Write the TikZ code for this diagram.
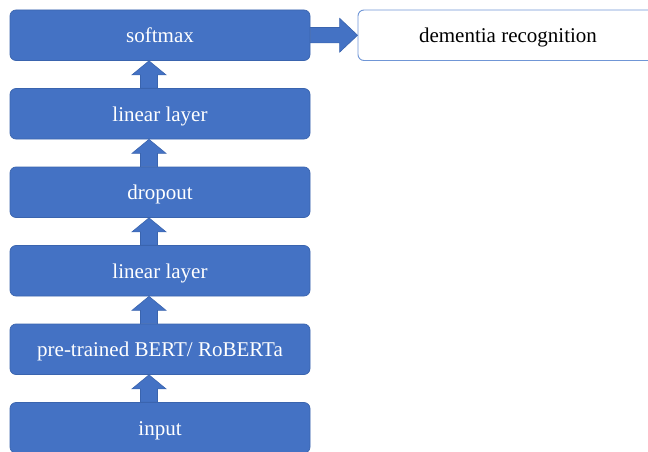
\documentclass[tikz,border=0pt]{standalone}
\usepackage{fontspec}
\setmainfont{Liberation Serif}
\usetikzlibrary{calc}
\definecolor{boxblue}{HTML}{4472C4}
\definecolor{boxedge}{HTML}{3A64AE}
\definecolor{lightedge}{HTML}{7096D6}
\tikzset{
  labeltext/.style={font=\fontsize{21}{25}\selectfont, inner sep=0pt,
    text height=14.5pt, text depth=0pt},
  layerbox/.style={rectangle, rounded corners=6pt, fill=boxblue, draw=boxedge,
    line width=0.7pt, minimum width=300pt, minimum height=50.5pt,
    text=white, labeltext},
  outbox/.style={rectangle, rounded corners=6pt, fill=white, draw=lightedge,
    line width=0.9pt, minimum width=300pt, minimum height=50.5pt,
    text=black, labeltext},
  blockarrow/.style={fill=boxblue, draw=boxedge, line width=0.6pt, line join=miter}
}
\begin{document}
\begin{tikzpicture}[x=1pt,y=1pt]
  \useasboundingbox (0,0) rectangle (648,451);
  \clip (0,0) rectangle (648,451);

  % stack of layers, bottom to top
  \node[layerbox] (input)   at (160,23.25)  {input};
  \node[layerbox] (bert)    at (160,101.75) {pre-trained BERT/ RoBERTa};
  \node[layerbox] (lin1)    at (160,180.25) {linear layer};
  \node[layerbox] (drop)    at (160,258.75) {dropout};
  \node[layerbox] (lin2)    at (160,337.25) {linear layer};
  \node[layerbox] (soft)    at (160,415.75) {softmax};
  \node[outbox]   (dem)     at (508,415.75) {dementia recognition};

  % upward block arrows between consecutive layers
  \foreach \lo/\hi in {input/bert, bert/lin1, lin1/drop, drop/lin2, lin2/soft}{
    \draw[blockarrow] let \p1=(\lo.north), \p2=(\hi.south) in
      (\x1-19.5pt,\y1) -- (\x1-19.5pt,\y2-14pt) -- (\x1-28pt,\y2-14pt)
      -- (\x1-11pt,\y2) -- (\x1+6pt,\y2-14pt) -- (\x1-2.5pt,\y2-14pt)
      -- (\x1-2.5pt,\y1) -- cycle;
  }

  % output arrow to the recognition box
  \draw[blockarrow] let \p1=(soft.east), \p2=(dem.west) in
    (\x1,\y1+7.7pt) -- (\x2-18pt,\y1+7.7pt) -- (\x2-18pt,\y1+17pt)
    -- (\x2,\y1) -- (\x2-18pt,\y1-17pt) -- (\x2-18pt,\y1-7.7pt)
    -- (\x1,\y1-7.7pt) -- cycle;
\end{tikzpicture}
\end{document}
